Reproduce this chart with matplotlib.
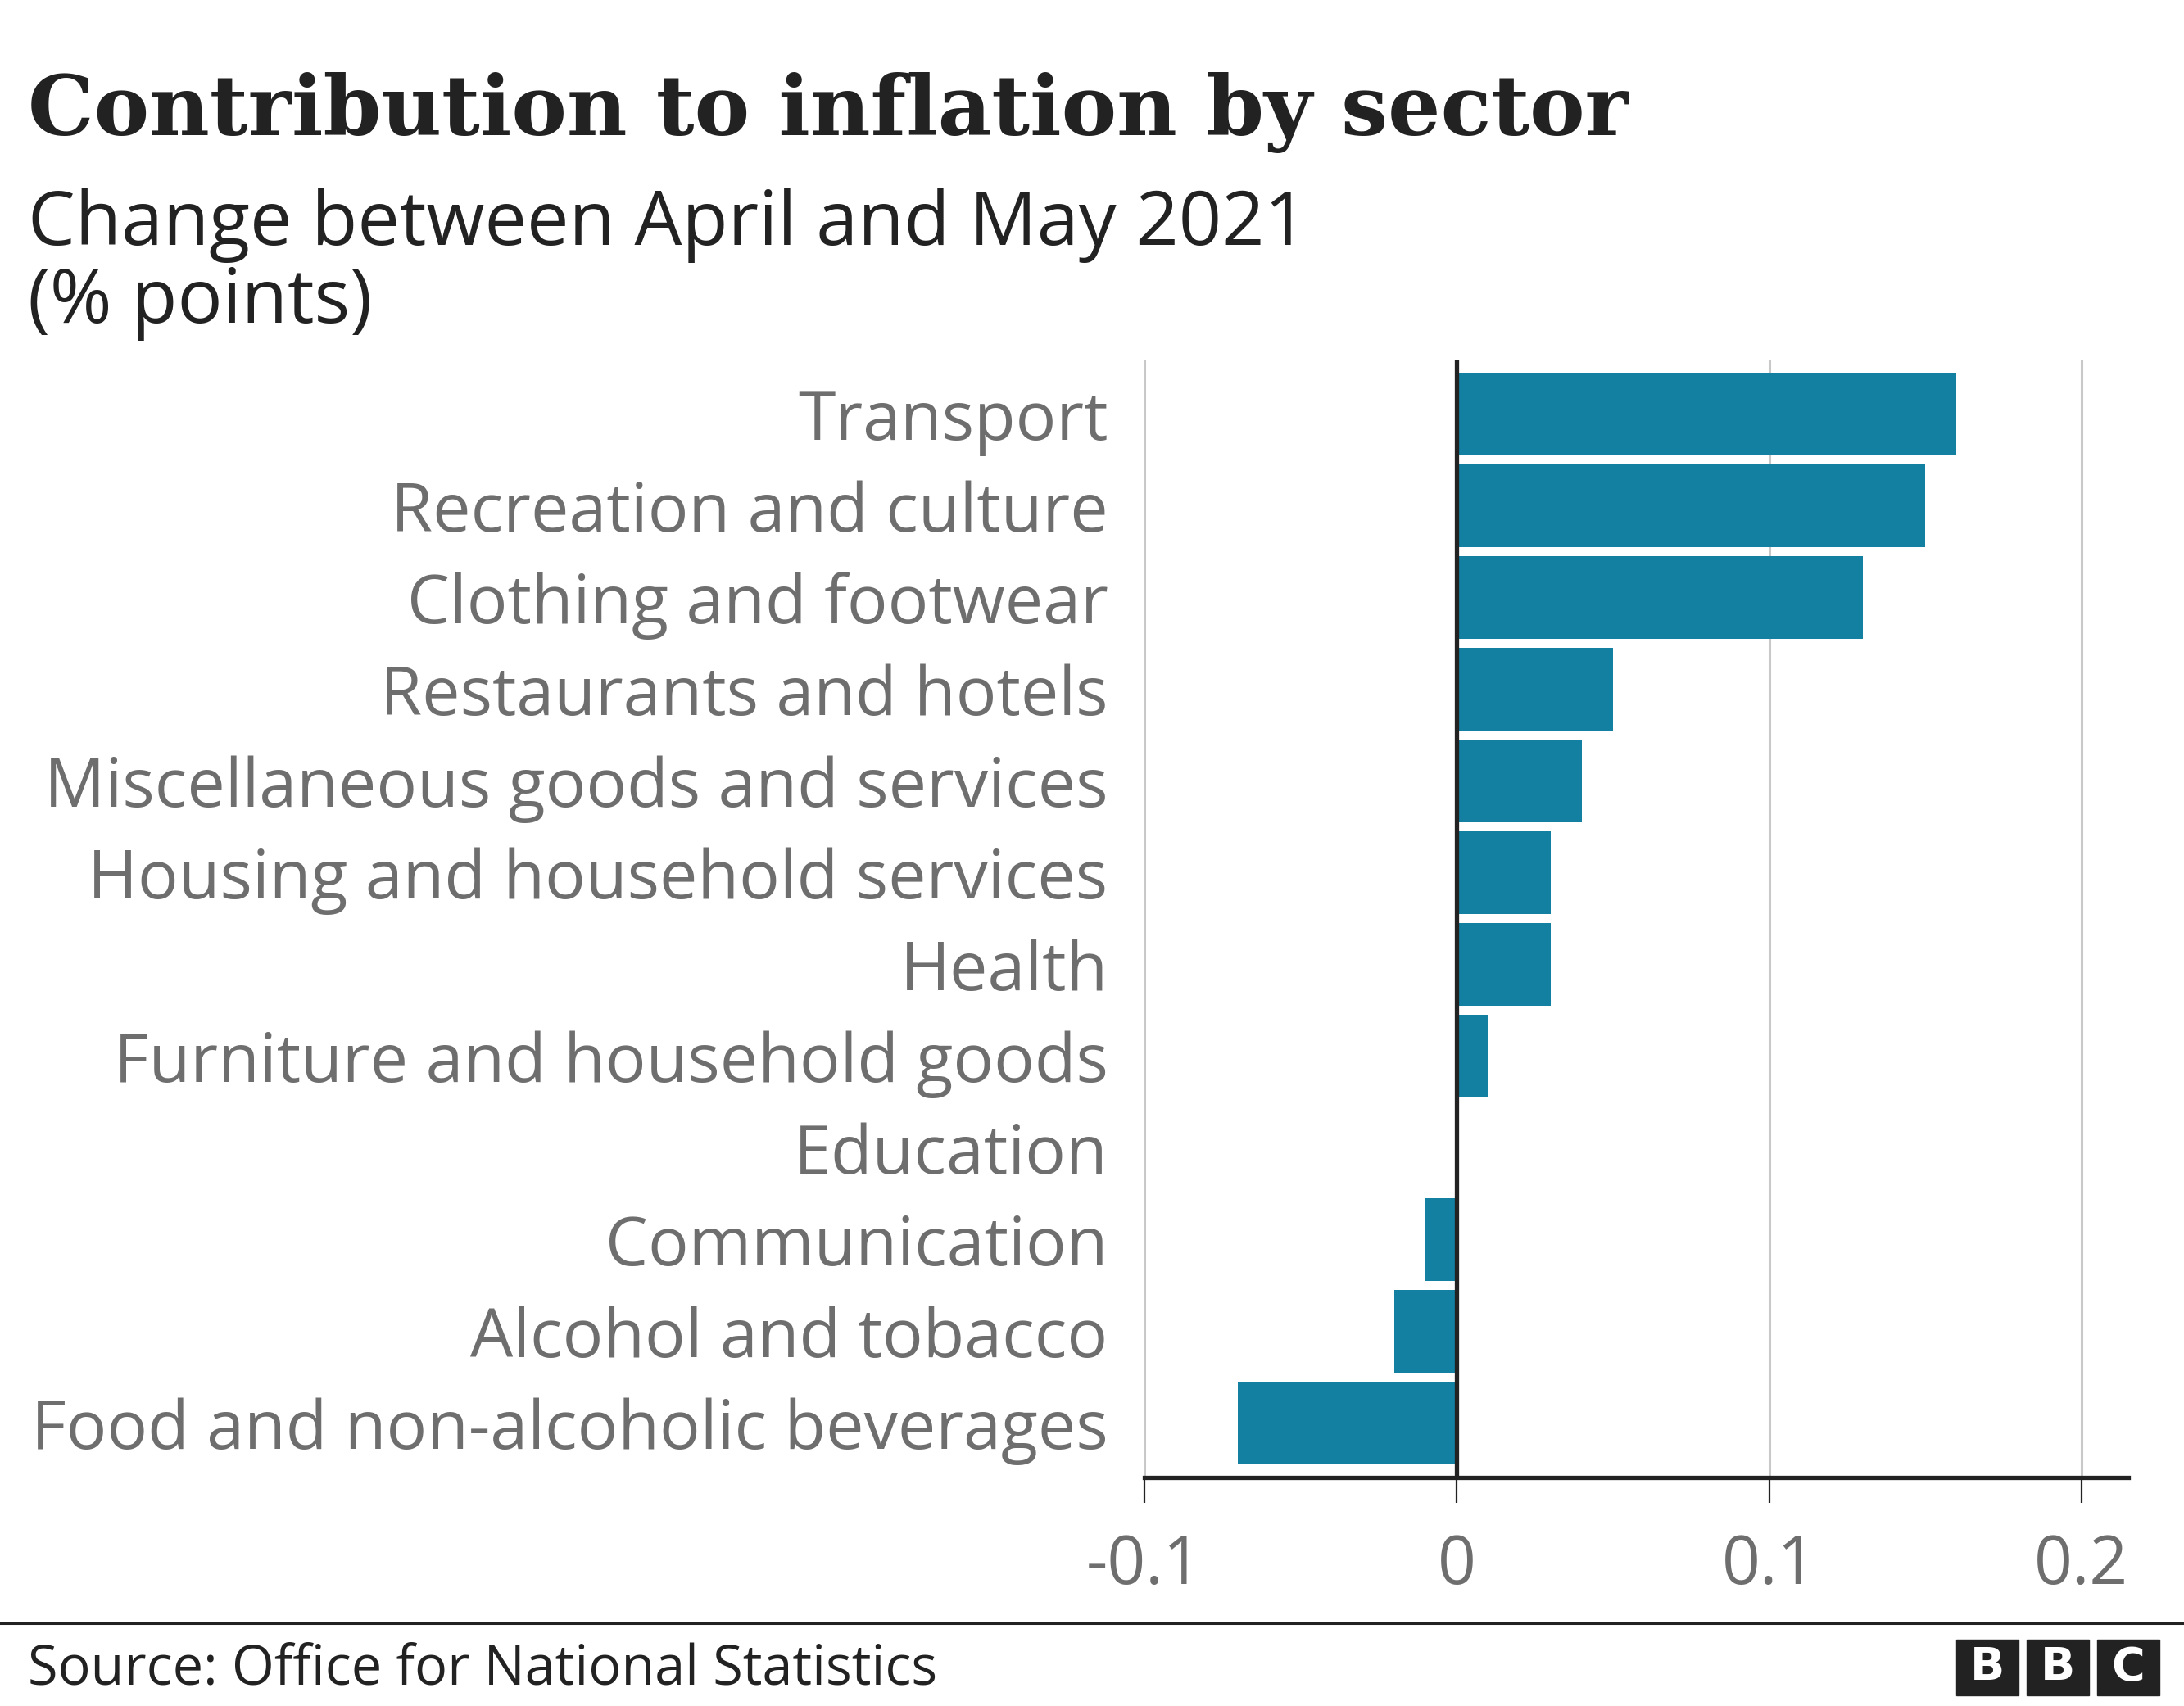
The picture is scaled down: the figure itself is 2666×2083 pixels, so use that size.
import matplotlib.pyplot as plt
from matplotlib.patches import Rectangle

sectors = [
    "Transport",
    "Recreation and culture",
    "Clothing and footwear",
    "Restaurants and hotels",
    "Miscellaneous goods and services",
    "Housing and household services",
    "Health",
    "Furniture and household goods",
    "Education",
    "Communication",
    "Alcohol and tobacco",
    "Food and non-alcoholic beverages",
]
change = [0.16, 0.15, 0.13, 0.05, 0.04, 0.03, 0.03, 0.01, 0.0, -0.01, -0.02, -0.07]
xticks = [-0.1, 0, 0.1, 0.2]
xtick_labels = ["-0.1", "0", "0.1", "0.2"]

BAR = "#1380a1"
DARK = "#222222"
GREY = "#6e6e6e"
SANS = ["Open Sans", "DejaVu Sans"]

fig = plt.figure(figsize=(26.66, 20.83), dpi=100)
ax = fig.add_axes([0.524, 0.134, 0.4505, 0.655])

y = list(range(len(sectors)))
ax.barh(y, change, height=0.9, color=BAR, zorder=2)
ax.set_ylim(len(sectors) - 0.41, -0.59)
ax.set_xlim(-0.1, 0.215)

for gx in [-0.1, 0.1, 0.2]:
    ax.axvline(gx, color="#c8c8c8", lw=2.2, zorder=1)
ax.axvline(0, color=DARK, lw=3.8, zorder=3)

for side in ["top", "right", "left"]:
    ax.spines[side].set_visible(False)
ax.spines["bottom"].set_color(DARK)
ax.spines["bottom"].set_linewidth(3.8)
ax.spines["bottom"].set_zorder(4)

ax.set_xticks(xticks)
ax.set_xticklabels(xtick_labels, fontsize=59, color=GREY, family=SANS)
ax.tick_params(axis="x", length=22, width=1.6, color=DARK, pad=27)
ax.set_yticks(y)
ax.set_yticklabels(sectors, fontsize=59.5, color=GREY, family=SANS)
ax.tick_params(axis="y", length=0, pad=32)

fig.text(0.0128, 0.921, "Contribution to inflation by sector", fontsize=73,
         fontweight="bold", family="DejaVu Serif", color=DARK, va="baseline")
fig.text(0.0128, 0.8564, "Change between April and May 2021", fontsize=66,
         family=SANS, color=DARK, va="baseline")
fig.text(0.0128, 0.8108, "(% points)", fontsize=66, family=SANS, color=DARK,
         va="baseline")

# footer rule, source and logo
fig.add_artist(plt.Line2D([0, 1], [0.0485, 0.0485], color=DARK, lw=2.2))
fig.text(0.0128, 0.0125, "Source: Office for National Statistics", fontsize=48,
         family=SANS, color=DARK, va="baseline")
for i, letter in enumerate("BBC"):
    x0 = (2388 + i * 86) / 2666
    fig.add_artist(Rectangle((x0, 0.0062), 76 / 2666, 0.0327, color=DARK,
                             transform=fig.transFigure))
    fig.text(x0 + 38 / 2666, 0.0225, letter, fontsize=40, fontweight="bold",
             family="DejaVu Sans", color="white", ha="center", va="center")

fig.savefig("out.png", dpi=100)
